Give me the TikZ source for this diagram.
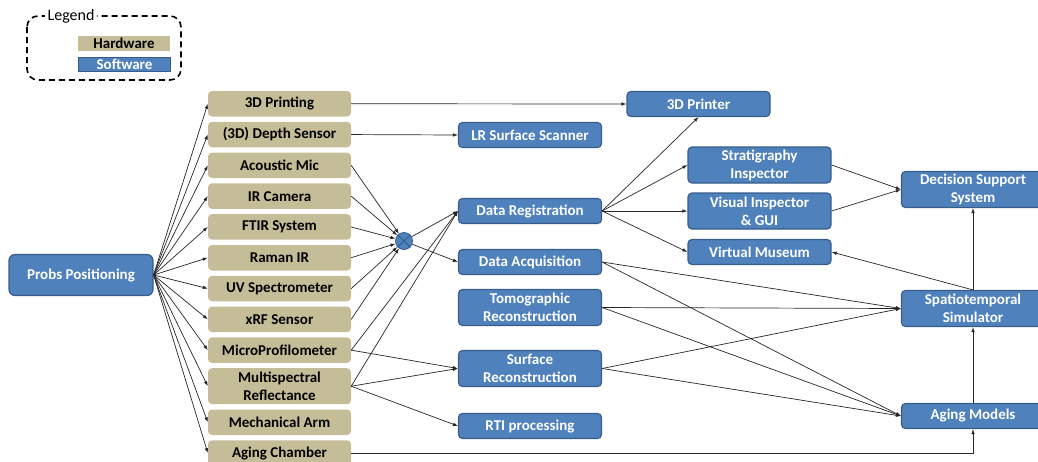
\documentclass[tikz,border=0pt]{standalone}
\usepackage{fontspec}
\setmainfont{Carlito}
\usetikzlibrary{positioning,arrows.meta}

\definecolor{hwtan}{HTML}{C4BD97}
\definecolor{swblue}{HTML}{4F81BD}
\definecolor{swedge}{HTML}{385D8A}

\begin{document}
\begin{tikzpicture}[
  x=1pt, y=-1pt,
  >={Latex[length=5pt,width=3.6pt]},
  node distance=4.9pt,
  every node/.style={font=\fontsize{15}{18}\selectfont\bfseries},
  hw/.style={rectangle, rounded corners=4pt, fill=hwtan, minimum width=143pt,
    minimum height=25.5pt, inner sep=1pt, align=center},
  sw/.style={rectangle, rounded corners=4pt, fill=swblue, draw=swedge, line width=1.2pt,
    text=white, minimum width=143pt, minimum height=25pt, inner sep=1pt, align=center},
  tall/.style={minimum height=36pt},
  link/.style={->, line width=0.7pt, black!85}
]
  \useasboundingbox (0,0) rectangle (1038,461);
  \clip (0,0) rectangle (1038,461);

  % legend
  \draw[dashed, line width=1.6pt, dash pattern=on 6pt off 4pt, rounded corners=11pt]
    (27,16) rectangle (181,80);
  \node[fill=white, inner sep=3pt, font=\fontsize{16}{18}\selectfont] (lgd) at (71,16) {Legend};
  \node[fill=hwtan, minimum width=92pt, minimum height=15pt, inner sep=0pt,
    font=\fontsize{15}{16}\selectfont\bfseries] (khw) at (124,43.5) {Hardware};
  \node[fill=swblue, draw=swedge, line width=1pt, text=white, minimum width=92pt,
    minimum height=14pt, inner sep=0pt, font=\fontsize{15}{16}\selectfont\bfseries]
    (ksw) at (124.5,64.5) {Software};

  % probes
  \node[sw, minimum width=144pt, minimum height=41pt, rounded corners=6pt] (pp) at (81,275) {Probs Positioning};

  % hardware column
  \node[hw] (prt) at (279.5,103.75) {3D Printing};
  \node[hw, below=of prt] (dep) {(3D) Depth Sensor};
  \node[hw, below=of dep] (acm) {Acoustic Mic};
  \node[hw, below=of acm] (irc) {IR Camera};
  \node[hw, below=of irc] (ftir) {FTIR System};
  \node[hw, below=of ftir] (ram) {Raman IR};
  \node[hw, below=of ram] (uvs) {UV Spectrometer};
  \node[hw, below=of uvs] (xrf) {xRF Sensor};
  \node[hw, below=of xrf] (mpf) {MicroProfilometer};
  \node[hw, tall, below=of mpf] (msr) {Multispectral\\Reflectance};
  \node[hw, below=of msr] (arm) {Mechanical Arm};
  \node[hw, below=of arm] (ach) {Aging Chamber};

  % fusion
  \node[circle, fill=swblue, draw=swedge, line width=0.8pt, minimum size=17pt, inner sep=0pt] (mux) at (404,241) {};
  \draw[swedge, line width=0.8pt] (mux.north west) -- (mux.south east) (mux.north east) -- (mux.south west);

  % software
  \node[sw] (lrs) at (530,135) {LR Surface Scanner};
  \node[sw] (dreg) at (530,211) {Data Registration};
  \node[sw] (dacq) at (530,262) {Data Acquisition};
  \node[sw, tall] (tomo) at (530,307.5) {Tomographic\\Reconstruction};
  \node[sw, tall] (srec) at (530,368.5) {Surface\\Reconstruction};
  \node[sw] (rti) at (530,426) {RTI processing};

  \node[sw] (prn) at (698.5,104) {3D Printer};
  \node[sw, tall] (strat) at (759.5,165) {Stratigraphy\\Inspector};
  \node[sw, tall] (visi) at (759.5,211) {Visual Inspector\\\& GUI};
  \node[sw] (vmus) at (759.5,252) {Virtual Museum};

  \node[sw, tall] (dss) at (973,189.5) {Decision Support\\System};
  \node[sw, tall] (spt) at (973,308.5) {Spatiotemporal\\Simulator};
  \node[sw] (aging) at (973,416) {Aging Models};

  % connections
  \foreach \h in {prt,dep,acm,irc,ftir,ram,uvs,xrf,mpf,msr,arm,ach}
    \draw[link] (pp.east) -- (\h.west);
  \foreach \h in {acm,irc,ftir,ram,uvs,xrf}
    \draw[link] (\h.east) -- (mux);
  \draw[link] (prt.east) -- (prn.west);
  \draw[link] (dep.east) -- (lrs.west);
  \foreach \s in {dreg,dacq}
    \draw[link] (mux) -- (\s.west);
  \foreach \s in {dreg,srec}
    \draw[link] (mpf.east) -- (\s.west);
  \foreach \s in {dreg,srec,rti}
    \draw[link] (msr.east) -- (\s.west);
  \draw[link] (ach.east) -| (aging.south);
  \draw[link] (dreg.east) -- (prn.south);
  \foreach \s in {strat,visi,vmus}
    \draw[link] (dreg.east) -- (\s.west);
  \foreach \s in {strat,visi}
    \draw[link] (\s.east) -- (dss.west);
  \foreach \s in {dacq,tomo,srec} {
    \draw[link] (\s.east) -- (spt.west);
    \draw[link] (\s.east) -- (aging.west);
  }
  \draw[link] (spt.north) -- (dss.south);
  \draw[link] (spt.north) -- (vmus.east);
  \draw[link] (aging.north) -- (spt.south);
\end{tikzpicture}
\end{document}
